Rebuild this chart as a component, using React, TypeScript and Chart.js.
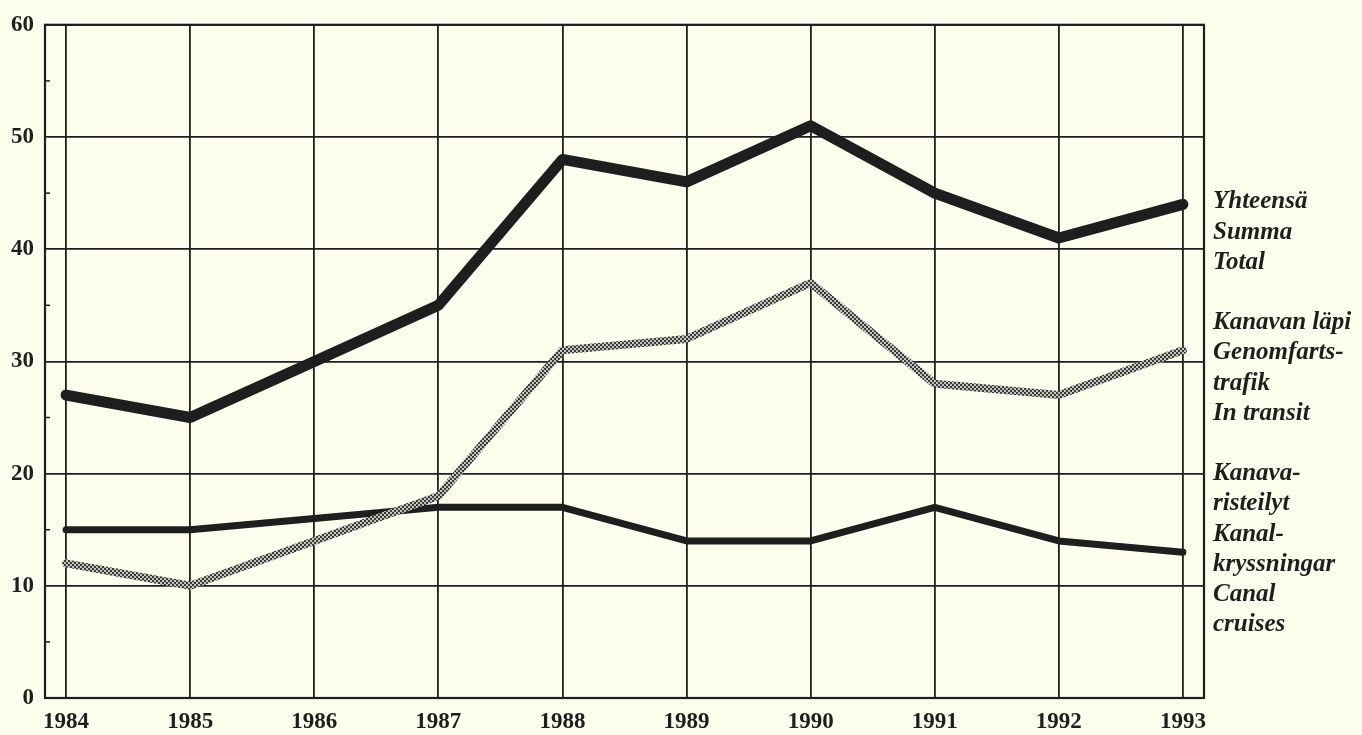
import React, { useEffect, useRef } from "react";
import { Chart, registerables } from "chart.js";

Chart.register(...registerables);

const years = [1984, 1985, 1986, 1987, 1988, 1989, 1990, 1991, 1992, 1993];
const totalValues = [27, 25, 30, 35, 48, 46, 51, 45, 41, 44];
const transitValues = [12, 10, 14, 18, 31, 32, 37, 28, 27, 31];
const cruiseValues = [15, 15, 16, 17, 17, 14, 14, 17, 14, 13];
const yTicks = [0, 10, 20, 30, 40, 50, 60];
const minorTicks = [5, 15, 25, 35, 45, 55];

const labelLines = [
  "Yhteensä", "Summa", "Total", "",
  "Kanavan läpi", "Genomfarts-", "trafik", "In transit", "",
  "Kanava-", "risteilyt", "Kanal-", "kryssningar", "Canal", "cruises",
];

const BG = "#fdfdee";
const INK = "#1e1e1e";

function makePattern(): CanvasPattern | string {
  const c = document.createElement("canvas");
  c.width = 4;
  c.height = 4;
  const g = c.getContext("2d");
  if (!g) return "#888";
  g.fillStyle = "#c4c4bc";
  g.fillRect(0, 0, 4, 4);
  g.fillStyle = "#3a3a3a";
  g.fillRect(0, 0, 2, 2);
  g.fillRect(2, 2, 2, 2);
  const p = g.createPattern(c, "repeat");
  return p || "#888";
}

export default function App() {
  const ref = useRef<HTMLCanvasElement>(null);
  useEffect(() => {
    document.body.style.margin = "0";
    document.body.style.background = BG;
    const canvas = ref.current;
    if (!canvas) return;

    const framePlugin = {
      id: "frame",
      beforeDraw(chart: any) {
        const { ctx } = chart;
        ctx.save();
        ctx.fillStyle = BG;
        ctx.fillRect(0, 0, chart.width, chart.height);
        ctx.restore();
      },
      afterDatasetsDraw(chart: any) {
        const { ctx, chartArea } = chart;
        const y = chart.scales.y;
        ctx.save();
        ctx.strokeStyle = INK;
        ctx.lineWidth = 2.2;
        ctx.strokeRect(chartArea.left, chartArea.top, chartArea.right - chartArea.left, chartArea.bottom - chartArea.top);
        ctx.lineWidth = 1.5;
        minorTicks.forEach((v) => {
          const py = y.getPixelForValue(v);
          ctx.beginPath();
          ctx.moveTo(chartArea.left, py);
          ctx.lineTo(chartArea.left + 5, py);
          ctx.stroke();
        });
        ctx.fillStyle = INK;
        ctx.font = "italic bold 25px 'Liberation Serif', 'DejaVu Serif', serif";
        ctx.textBaseline = "middle";
        ctx.textAlign = "left";
        const x0 = chartArea.right + 9;
        let py = 202;
        labelLines.forEach((t) => {
          if (t) ctx.fillText(t, x0, py);
          py += 30.2;
        });
        ctx.restore();
      },
    };

    const tickFont = { family: "'Liberation Serif', serif", weight: "bold", size: 23 };

    const chart = new Chart(canvas, {
      type: "line",
      data: {
        datasets: [
          {
            label: "Yhteensä / Summa / Total",
            data: years.map((x, i) => ({ x, y: totalValues[i] })),
            borderColor: INK,
            borderWidth: 11,
            pointRadius: 0,
            borderCapStyle: "round",
            borderJoinStyle: "round",
            tension: 0,
          },
          {
            label: "Kanavan läpi / Genomfartstrafik / In transit",
            data: years.map((x, i) => ({ x, y: transitValues[i] })),
            borderColor: makePattern() as any,
            borderWidth: 8,
            pointRadius: 0,
            borderCapStyle: "round",
            borderJoinStyle: "round",
            tension: 0,
          },
          {
            label: "Kanavaristeilyt / Kanalkryssningar / Canal cruises",
            data: years.map((x, i) => ({ x, y: cruiseValues[i] })),
            borderColor: INK,
            borderWidth: 7,
            pointRadius: 0,
            borderCapStyle: "round",
            borderJoinStyle: "round",
            tension: 0,
          },
        ],
      },
      options: {
        animation: false,
        responsive: false,
        maintainAspectRatio: false,
        layout: { padding: { left: 0, right: 158, top: 18, bottom: 0 } },
        plugins: { legend: { display: false }, tooltip: { enabled: false } },
        scales: {
          x: {
            type: "linear",
            min: 1983.83,
            max: 1993.17,
            afterBuildTicks: (s: any) => {
              s.ticks = years.map((v) => ({ value: v }));
            },
            afterFit: (s: any) => {
              s.height = 37;
            },
            grid: { color: INK, lineWidth: 1.8, drawTicks: false },
            border: { display: false },
            ticks: {
              padding: 10,
              color: INK,
              font: tickFont,
              callback: (v: any) => String(v),
              maxRotation: 0,
              autoSkip: false,
            },
          },
          y: {
            type: "linear",
            min: 0,
            max: 60,
            afterBuildTicks: (s: any) => {
              s.ticks = yTicks.map((v) => ({ value: v }));
            },
            afterFit: (s: any) => {
              s.width = 45;
            },
            grid: { color: INK, lineWidth: 1.8, drawTicks: false },
            border: { display: false },
            ticks: {
              padding: 11,
              color: INK,
              font: tickFont,
            },
          },
        },
      },
      plugins: [framePlugin],
    } as any);
    return () => chart.destroy();
  }, []);
  return (
    <div style={{ width: 1362, height: 735, background: BG }}>
      <canvas ref={ref} width={1362} height={735} style={{ display: "block", width: 1362, height: 735 }} />
    </div>
  );
}
